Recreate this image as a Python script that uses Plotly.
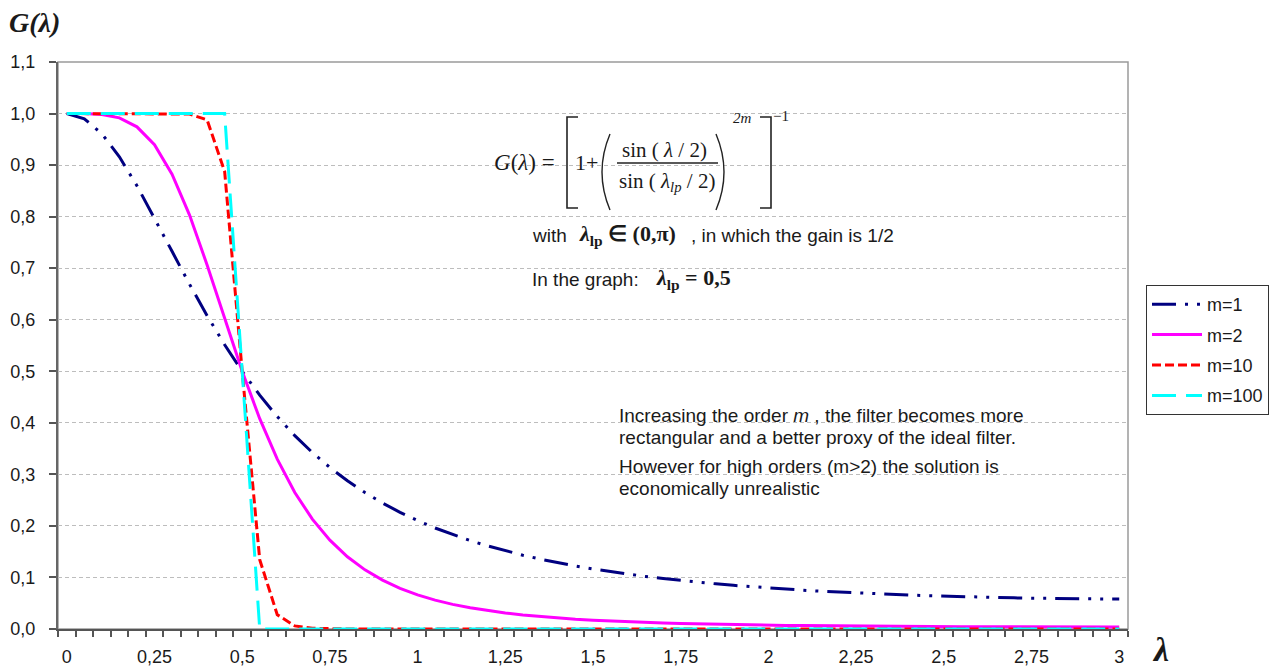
import plotly.graph_objects as go

# ---------------- data ----------------
lam = [0.00, 0.05, 0.10, 0.15, 0.20, 0.25, 0.30, 0.35, 0.40, 0.45,
       0.50, 0.55, 0.60, 0.65, 0.70, 0.75, 0.80, 0.85, 0.90, 0.95,
       1.00, 1.05, 1.10, 1.15, 1.20, 1.25, 1.30, 1.35, 1.40, 1.45,
       1.50, 1.55, 1.60, 1.65, 1.70, 1.75, 1.80, 1.85, 1.90, 1.95,
       2.00, 2.05, 2.10, 2.15, 2.20, 2.25, 2.30, 2.35, 2.40, 2.45,
       2.50, 2.55, 2.60, 2.65, 2.70, 2.75, 2.80, 2.85, 2.90, 2.95, 3.00]

g_m1 = [1.0000, 0.9899, 0.9608, 0.9160, 0.8600, 0.7975, 0.7327, 0.6688, 0.6079, 0.5515,
        0.5000, 0.4536, 0.4121, 0.3751, 0.3424, 0.3133, 0.2876, 0.2647, 0.2444, 0.2264,
        0.2103, 0.1959, 0.1830, 0.1715, 0.1611, 0.1517, 0.1432, 0.1355, 0.1285, 0.1222,
        0.1164, 0.1111, 0.1063, 0.1019, 0.0978, 0.0941, 0.0907, 0.0876, 0.0847, 0.0820,
        0.0796, 0.0773, 0.0752, 0.0733, 0.0716, 0.0699, 0.0684, 0.0671, 0.0658, 0.0647,
        0.0636, 0.0627, 0.0619, 0.0611, 0.0604, 0.0598, 0.0593, 0.0589, 0.0585, 0.0582, 0.0580]

g_m2 = [1.0000, 0.9999, 0.9983, 0.9917, 0.9742, 0.9394, 0.8825, 0.8030, 0.7063, 0.6019,
        0.5000, 0.4080, 0.3294, 0.2649, 0.2132, 0.1723, 0.1401, 0.1148, 0.0948, 0.0789,
        0.0662, 0.0560, 0.0478, 0.0411, 0.0356, 0.0310, 0.0272, 0.0240, 0.0213, 0.0190,
        0.0171, 0.0154, 0.0140, 0.0127, 0.0116, 0.0107, 0.0099, 0.0091, 0.0085, 0.0079,
        0.0074, 0.0070, 0.0066, 0.0062, 0.0059, 0.0056, 0.0054, 0.0051, 0.0049, 0.0048,
        0.0046, 0.0045, 0.0043, 0.0042, 0.0041, 0.0040, 0.0040, 0.0039, 0.0038, 0.0038, 0.0038]

g_m10 = [1.0000, 1.0000, 1.0000, 1.0000, 1.0000, 1.0000, 1.0000, 0.9991, 0.9877, 0.8877,
         0.5000, 0.1345, 0.0278, 0.0060, 0.0015, 0.0004, 0.0001, 0.0000, 0.0000, 0.0000,
         0.0000, 0.0000, 0.0000, 0.0000, 0.0000, 0.0000, 0.0000, 0.0000, 0.0000, 0.0000,
         0.0000, 0.0000, 0.0000, 0.0000, 0.0000, 0.0000, 0.0000, 0.0000, 0.0000, 0.0000,
         0.0000, 0.0000, 0.0000, 0.0000, 0.0000, 0.0000, 0.0000, 0.0000, 0.0000, 0.0000,
         0.0000, 0.0000, 0.0000, 0.0000, 0.0000, 0.0000, 0.0000, 0.0000, 0.0000, 0.0000, 0.0000]

g_m100 = [1.0000, 1.0000, 1.0000, 1.0000, 1.0000, 1.0000, 1.0000, 1.0000, 1.0000, 1.0000,
          0.5000, 0.0000, 0.0000, 0.0000, 0.0000, 0.0000, 0.0000, 0.0000, 0.0000, 0.0000,
          0.0000, 0.0000, 0.0000, 0.0000, 0.0000, 0.0000, 0.0000, 0.0000, 0.0000, 0.0000,
          0.0000, 0.0000, 0.0000, 0.0000, 0.0000, 0.0000, 0.0000, 0.0000, 0.0000, 0.0000,
          0.0000, 0.0000, 0.0000, 0.0000, 0.0000, 0.0000, 0.0000, 0.0000, 0.0000, 0.0000,
          0.0000, 0.0000, 0.0000, 0.0000, 0.0000, 0.0000, 0.0000, 0.0000, 0.0000, 0.0000, 0.0000]

series_names = ["m=1", "m=2", "m=10", "m=100"]

x_tick_vals = [0, 0.25, 0.5, 0.75, 1, 1.25, 1.5, 1.75, 2, 2.25, 2.5, 2.75, 3]
x_tick_text = ["0", "0,25", "0,5", "0,75", "1", "1,25", "1,5", "1,75", "2", "2,25", "2,5", "2,75", "3"]
y_tick_vals = [0.0, 0.1, 0.2, 0.3, 0.4, 0.5, 0.6, 0.7, 0.8, 0.9, 1.0, 1.1]
y_tick_text = ["0,0", "0,1", "0,2", "0,3", "0,4", "0,5", "0,6", "0,7", "0,8", "0,9", "1,0", "1,1"]

# ---------------- layout geometry (pixels) ----------------
W, H = 1280, 669
L, R, T, B = 58, 1128, 62, 629


def px(x):
    return (x - L) / (R - L)


def py(y):
    return (B - y) / (B - T)


SANS = "Liberation Sans, Arial, sans-serif"
SERIF = "Liberation Serif, Times New Roman, serif"
TXT = "#1a1a1a"

fig = go.Figure()

styles = [
    dict(color="#000080", width=3, dash="24px,9px,3px,9px,3px,9px"),
    dict(color="#FF00FF", width=3, dash="solid"),
    dict(color="#FF0000", width=3, dash="9px,4px"),
    dict(color="#00FFFF", width=3, dash="24px,10px"),
]
for name, ys, st, grp in zip(series_names, [g_m1, g_m2, g_m10, g_m100], styles, ["a", "b", "c", "d"]):
    fig.add_trace(go.Scatter(x=lam, y=ys, mode="lines", name=name, line=st,
                             legendgroup=grp, hoverinfo="x+y"))

annotations = []


def ann(text, x, y, size, family=SANS, xanchor="left", color=TXT):
    annotations.append(dict(text=text, x=px(x), y=py(y), xref="paper", yref="paper",
                            xanchor=xanchor, yanchor="middle", showarrow=False,
                            font=dict(family=family, size=size, color=color)))


# axis titles
ann("<b><i>G(λ)</i></b>", 7, 23, 28, family=SERIF)
ann("<b><i>λ</i></b>", 1160, 649, 34, family=SERIF, xanchor="center")

# formula
ann("<i>G</i>(<i>λ</i>) =", 492, 162, 23, family=SERIF)
ann("1+", 573, 162, 22, family=SERIF)
ann("sin ( <i>λ</i> / 2)", 664, 150, 21, family=SERIF, xanchor="center")
ann("sin ( <i>λ</i><sub><i>lp</i></sub> / 2)", 667, 182, 21, family=SERIF, xanchor="center")
ann("<i>2m</i>", 731, 118, 15, family=SERIF)
ann("−1", 771, 116, 15, family=SERIF)

# with / in the graph
ann("with", 530, 235, 19)
ann("<b><i>λ</i><sub>lp</sub> ∈ (0,π)</b>", 577, 235, 22, family=SERIF)
ann(", in which the gain is 1/2", 689, 235, 19)
ann("In the graph:", 530, 279, 19)
ann("<b><i>λ</i><sub>lp</sub> = 0,5</b>", 654, 279, 22, family=SERIF)

# comments
ann("Increasing the order <i>m</i> , the filter becomes more", 617, 415, 19)
ann("rectangular and a better proxy of the ideal filter.", 617, 437, 19)
ann("However for high orders (m>2) the solution is", 617, 466, 19)
ann("economically unrealistic", 617, 488, 19)

shapes = []
line_k = dict(color="#222222", width=1.6)
# fraction bar
shapes.append(dict(type="line", xref="paper", yref="paper", x0=px(617), x1=px(718),
                   y0=py(163), y1=py(163), line=line_k))
# square brackets
shapes.append(dict(type="path", xref="paper", yref="paper",
                   path=f"M {px(578)},{py(117)} L {px(567)},{py(117)} L {px(567)},{py(208)} L {px(578)},{py(208)}",
                   line=line_k))
shapes.append(dict(type="path", xref="paper", yref="paper",
                   path=f"M {px(760)},{py(117)} L {px(771)},{py(117)} L {px(771)},{py(208)} L {px(760)},{py(208)}",
                   line=line_k))
# big parentheses
shapes.append(dict(type="path", xref="paper", yref="paper",
                   path=f"M {px(610)},{py(134)} Q {px(594)},{py(172)} {px(610)},{py(210)}",
                   line=dict(color="#222222", width=1.4)))
shapes.append(dict(type="path", xref="paper", yref="paper",
                   path=f"M {px(716)},{py(134)} Q {px(732)},{py(172)} {px(716)},{py(210)}",
                   line=dict(color="#222222", width=1.4)))
# plot area border (top / right)
shapes.append(dict(type="rect", xref="paper", yref="paper", x0=0, x1=1, y0=0, y1=1,
                   line=dict(color="#9a9a9a", width=1.5), layer="below"))

fig.update_layout(
    width=W, height=H,
    margin=dict(l=L, r=W - R, t=T, b=H - B, pad=0, autoexpand=False),
    paper_bgcolor="white", plot_bgcolor="white",
    showlegend=True,
    legend=dict(x=px(1146), y=py(285), xanchor="left", yanchor="top",
                bordercolor="#333333", borderwidth=1, bgcolor="white",
                font=dict(family=SANS, size=18, color=TXT),
                tracegroupgap=4, itemwidth=50, traceorder="grouped"),
    annotations=annotations,
    shapes=shapes,
    xaxis=dict(range=[-0.025, 3.025], tickmode="array", tickvals=x_tick_vals, ticktext=x_tick_text,
               ticks="", showgrid=False, zeroline=False, showline=True, linecolor="#555555",
               linewidth=2, tickfont=dict(family=SANS, size=18, color=TXT), ticklabelstandoff=10,
               automargin=False,
               minor=dict(ticks="outside", tick0=-0.025, dtick=0.05, ticklen=6, tickwidth=1.5,
                          tickcolor="#555555", showgrid=False)),
    yaxis=dict(range=[0, 1.1], tickmode="array", tickvals=y_tick_vals, ticktext=y_tick_text,
               ticks="outside", ticklen=7, tickwidth=1.5, tickcolor="#555555",
               showgrid=True, gridcolor="#bdbdbd", gridwidth=1, griddash="4px,3px",
               zeroline=False, showline=True, linecolor="#666666", linewidth=2, automargin=False,
               tickfont=dict(family=SANS, size=18, color=TXT), ticklabelstandoff=10),
)

fig.write_html("out.html")
